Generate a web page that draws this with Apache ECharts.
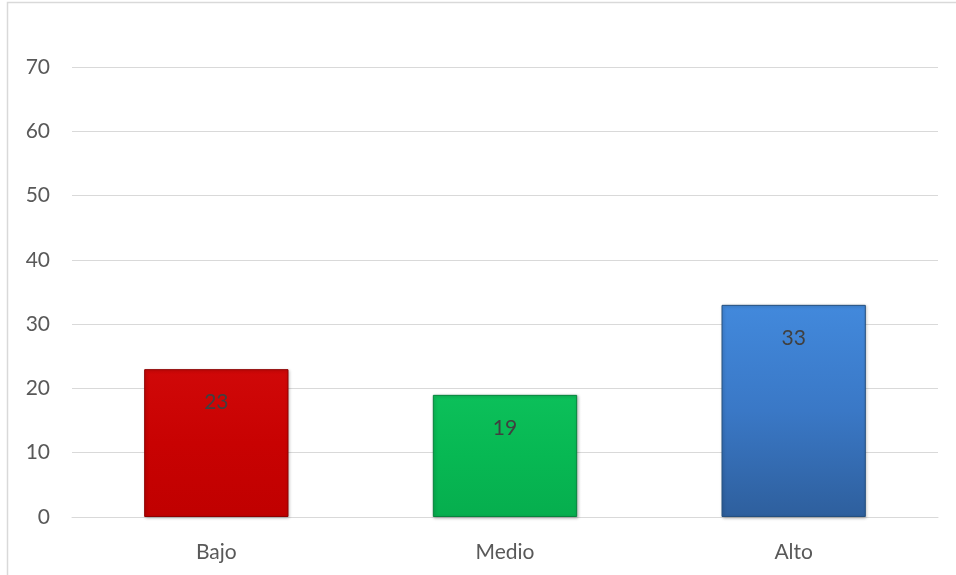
<!DOCTYPE html>
<html>
<head>
<meta charset="utf-8">
<script src="https://cdn.jsdelivr.net/npm/echarts@6/dist/echarts.min.js"></script>
<style>
html,body{margin:0;padding:0;background:#fff;}
#chart{width:956px;height:575px;}
</style>
</head>
<body>
<div id="chart"></div>
<script>
const categories = ['Bajo', 'Medio', 'Alto'];
const values = [23, 19, 33];
const yTicks = [0, 10, 20, 30, 40, 50, 60, 70];

const barColors = [
  ['#d00808', '#c80202', '#c00000', '#8e0000'],
  ['#0cc05a', '#07b853', '#06ae4e', '#05843c'],
  ['#4289dc', '#3a78c6', '#2e5f9d', '#25507f']
];

const chart = echarts.init(document.getElementById('chart'));
const fontFam = 'Lato, "Open Sans", sans-serif';

chart.setOption({
  animation: false,
  backgroundColor: '#ffffff',
  graphic: [{
    type: 'rect',
    shape: { x: 7.5, y: 2.5, width: 960, height: 600 },
    style: { fill: 'none', stroke: '#d9d9d9', lineWidth: 1.5 },
    silent: true
  }],
  grid: { left: 72, right: 18, top: 67, bottom: 58 },
  xAxis: {
    type: 'category',
    data: categories,
    axisLine: { show: true, lineStyle: { color: '#d9d9d9', width: 1 } },
    axisTick: { show: false },
    axisLabel: { color: '#595959', fontSize: 21, fontFamily: fontFam, margin: 25 }
  },
  yAxis: {
    type: 'value',
    min: yTicks[0],
    max: yTicks[yTicks.length - 1],
    interval: 10,
    axisLine: { show: false },
    axisTick: { show: false },
    axisLabel: { color: '#595959', fontSize: 21, fontFamily: fontFam, margin: 22 },
    splitLine: { lineStyle: { color: '#d9d9d9', width: 1 } }
  },
  series: [{
    type: 'bar',
    barWidth: '50%',
    data: values.map((v, i) => ({
      value: v,
      itemStyle: {
        color: new echarts.graphic.LinearGradient(0, 0, 0, 1, [
          { offset: 0, color: barColors[i][0] },
          { offset: 0.5, color: barColors[i][1] },
          { offset: 1, color: barColors[i][2] }
        ]),
        borderColor: barColors[i][3],
        borderWidth: 1,
        shadowColor: 'rgba(0,0,0,0.25)',
        shadowBlur: 3,
        shadowOffsetX: 1,
        shadowOffsetY: 1
      }
    })),
    label: {
      show: true,
      position: 'insideTop',
      distance: 23,
      color: '#404040',
      fontSize: 21,
      fontFamily: fontFam
    }
  }]
});
</script>
</body>
</html>
